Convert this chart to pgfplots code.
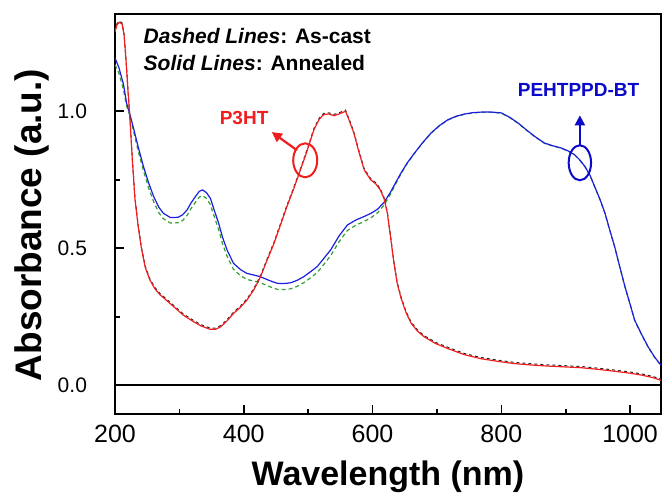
\documentclass[border=0pt]{standalone}
\usepackage{fontspec}
\setmainfont{Liberation Sans}
\usepackage{pgfplots}
\pgfplotsset{compat=1.18}
\usepackage{pgfplotstable}
\usetikzlibrary{arrows.meta}
\definecolor{cred}{RGB}{240,30,30}
\definecolor{cblue}{RGB}{30,30,225}
\definecolor{cgreen}{RGB}{50,160,50}
\definecolor{tblue}{RGB}{10,10,200}

\pgfplotstableread{
x y
200 1.29
203 1.315
207 1.325
211 1.318
214 1.28
217 1.19
220 1.08
223 0.98
227 0.82
231 0.68
236 0.58
241 0.50
247 0.43
254 0.385
262 0.352
270 0.330
280 0.310
293 0.283
306 0.256
320 0.235
333 0.217
348 0.204
356 0.204
364 0.213
374 0.235
384 0.262
395 0.285
405 0.311
416 0.350
426 0.396
436 0.455
447 0.518
457 0.585
467 0.652
478 0.720
488 0.786
499 0.86
509 0.933
517 0.970
524 0.988
532 0.990
540 0.984
548 0.990
558 1.0
564 0.965
571 0.92
579 0.85
587 0.786
597 0.75
605 0.735
612 0.713
618 0.68
623 0.628
628 0.54
633 0.45
638 0.375
644 0.320
652 0.265
660 0.226
670 0.197
680 0.177
698 0.152
717 0.134
742 0.112
768 0.097
795 0.087
820 0.079
846 0.074
872 0.070
898 0.067
924 0.064
950 0.058
976 0.051
1000 0.044
1018 0.037
1035 0.028
1048 0.018
}\pthtann

\pgfplotstableread{
x y
200 1.195
206 1.16
213 1.10
218 1.03
223 0.99
228 0.945
236 0.87
244 0.80
252 0.74
260 0.689
268 0.650
275 0.628
286 0.612
298 0.613
305 0.622
312 0.640
318 0.665
325 0.689
331 0.708
336 0.713
342 0.703
348 0.683
354 0.640
361 0.591
367 0.540
374 0.494
384 0.445
395 0.422
405 0.408
416 0.402
426 0.396
440 0.382
452 0.372
462 0.371
473 0.374
483 0.383
493 0.396
503 0.413
514 0.433
524 0.462
535 0.494
548 0.545
561 0.585
574 0.603
587 0.616
598 0.628
608 0.643
618 0.668
628 0.705
636 0.740
644 0.774
654 0.812
665 0.847
678 0.886
691 0.921
704 0.948
717 0.969
730 0.982
743 0.990
756 0.995
769 0.997
785 0.997
800 0.994
813 0.978
826 0.957
839 0.932
852 0.908
867 0.884
880 0.874
893 0.866
904 0.855
914 0.841
922 0.822
930 0.798
938 0.765
945 0.725
953 0.680
961 0.628
968 0.570
976 0.506
984 0.432
992 0.360
1000 0.296
1007 0.238
1018 0.185
1028 0.140
1038 0.103
1048 0.073
}\pbtann

\pgfplotstableread{
x y
200 1.17
206 1.14
213 1.08
218 1.02
223 0.985
228 0.935
236 0.855
244 0.785
252 0.722
260 0.670
268 0.630
275 0.608
286 0.592
298 0.593
305 0.601
312 0.620
318 0.645
325 0.668
331 0.687
336 0.692
342 0.682
348 0.660
354 0.617
361 0.568
367 0.517
374 0.471
384 0.423
395 0.400
405 0.386
416 0.380
426 0.374
440 0.360
452 0.350
462 0.349
473 0.352
483 0.361
493 0.374
503 0.391
514 0.411
524 0.440
535 0.473
548 0.524
561 0.565
574 0.584
587 0.598
598 0.612
608 0.630
618 0.658
628 0.698
636 0.735
644 0.771
654 0.810
665 0.846
678 0.885
691 0.920
704 0.947
717 0.968
730 0.981
743 0.989
756 0.994
769 0.996
785 0.996
800 0.993
813 0.977
826 0.956
839 0.931
852 0.907
867 0.883
880 0.873
893 0.865
904 0.854
914 0.840
922 0.821
930 0.797
938 0.764
945 0.724
953 0.679
961 0.627
968 0.569
976 0.505
984 0.431
992 0.359
1000 0.295
1007 0.237
1018 0.184
1028 0.139
1038 0.102
1048 0.072
}\pbtcast

\begin{document}
\begin{tikzpicture}
\begin{axis}[
  scale only axis, width=273pt, height=200pt,
  at={(0,0)}, anchor=south west,
  xmin=200, xmax=1048, ymin=-0.105, ymax=1.355,
  xtick={200,400,600,800,1000}, minor xtick={300,500,700,900},
  ytick={0,0.5,1}, minor ytick={0.25,0.75},
  tick pos=left, tick align=inside,
  major tick length=4.5pt, minor tick length=2.5pt,
  axis line style={line width=1pt},
  every tick/.style={black, line width=0.8pt},
  /pgf/number format/assume math mode=true,
  xticklabel style={font=\fontsize{12.5}{14}\selectfont, yshift=-2pt, /pgf/number format/1000 sep={}},
  yticklabel style={font=\fontsize{10.5}{12}\selectfont, xshift=-10.5pt,
     /pgf/number format/.cd, fixed, fixed zerofill, precision=1},
  xlabel={Wavelength (nm)}, ylabel={Absorbance (a.u.)},
  xlabel style={font=\bfseries\fontsize{17}{20}\selectfont, at={(axis description cs:0.5,-0.1775)}, anchor=base},
  ylabel style={font=\bfseries\fontsize{18.5}{21}\selectfont, at={(axis description cs:-0.1343,0.4725)}, anchor=base},
  clip=true,
]
\addplot[black, line width=0.9pt, forget plot] coordinates {(200,0) (1048,0)};
\addplot[cgreen, line width=0.6pt, dash pattern=on 2pt off 1.5pt] table[x=x,y=y] {\pbtcast};
\addplot[cblue, line width=0.6pt] table[x=x,y=y] {\pbtann};
\addplot[black!85, line width=0.5pt, dash pattern=on 1.5pt off 1.5pt, yshift=0.6pt] table[x=x,y=y] {\pthtann};
\addplot[cred, line width=0.6pt] table[x=x,y=y] {\pthtann};

\node[anchor=base west, font=\bfseries\fontsize{10.5}{12}\selectfont] at (rel axis cs:0.0397,0.927) {\textit{Dashed Lines}: As-cast};
\node[anchor=base west, font=\bfseries\fontsize{10.5}{12}\selectfont] at (rel axis cs:0.0397,0.86) {\textit{Solid Lines}: Annealed};

\node[cred, font=\bfseries\fontsize{9.5}{11}\selectfont] at (axis cs:400.5,0.974) {P3HT};
\draw[cred, line width=1pt] (axis cs:495.4,0.821) ellipse [x radius=6pt, y radius=8.5pt];
\draw[cred, line width=1.1pt, -{Triangle[length=5pt,width=5pt]}] (axis cs:482.4,0.858) -- (axis cs:443.6,0.924);

\node[tblue, font=\bfseries\fontsize{9.5}{11}\selectfont] at (axis cs:920,1.077) {PEHTPPD-BT};
\draw[tblue, line width=1pt] (axis cs:922,0.812) ellipse [x radius=5.6pt, y radius=8.75pt];
\draw[tblue, line width=1.1pt, -{Triangle[length=5pt,width=5pt]}] (axis cs:922,0.876) -- (axis cs:922,0.985);
\end{axis}
\pgfresetboundingbox
\path[use as bounding box] (-57.5pt,-39.5pt) rectangle (273.5pt,207pt);
\end{tikzpicture}
\end{document}
